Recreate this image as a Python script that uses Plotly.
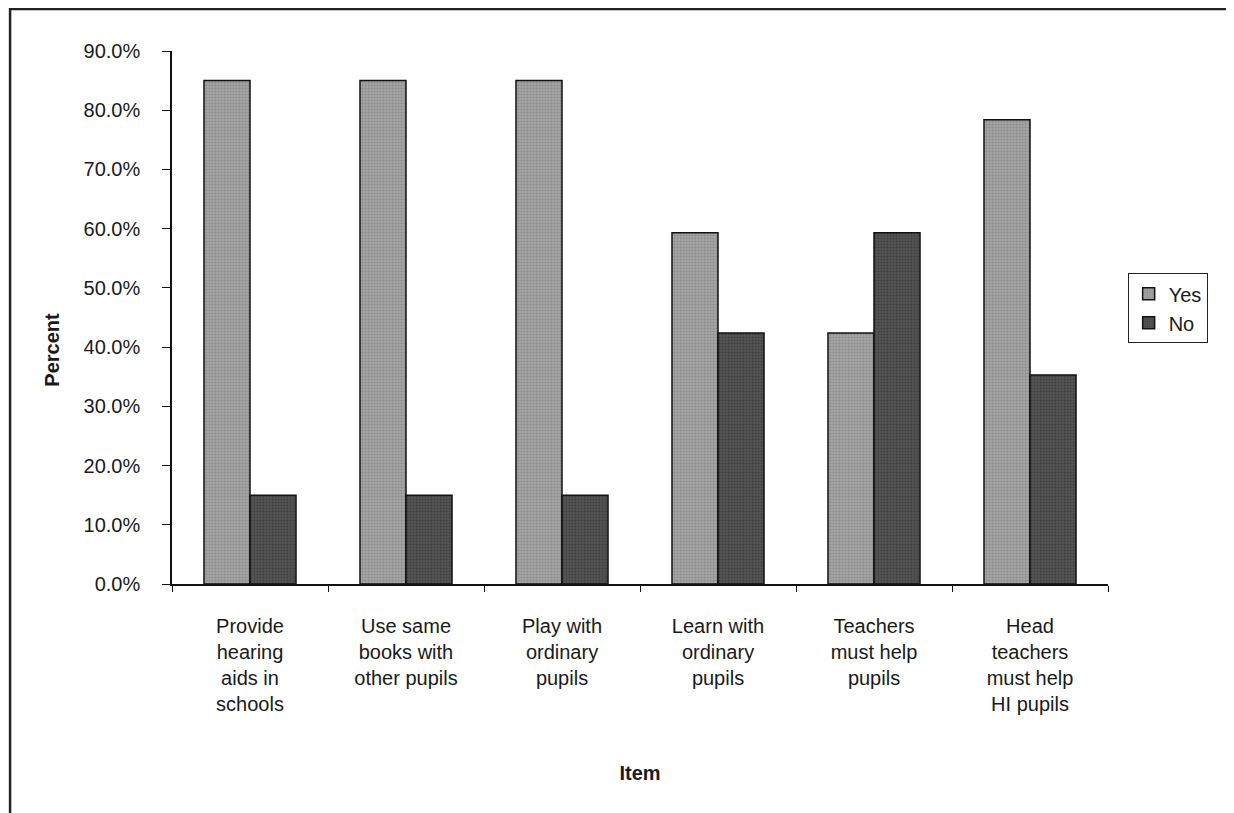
import plotly.graph_objects as go

items = ["Provide<br>hearing<br>aids in<br>schools",
         "Use same<br>books with<br>other pupils",
         "Play with<br>ordinary<br>pupils",
         "Learn with<br>ordinary<br>pupils",
         "Teachers<br>must help<br>pupils",
         "Head<br>teachers<br>must help<br>HI pupils"]
yes_pct = [85.0, 85.0, 85.0, 59.3, 42.4, 78.4]
no_pct = [15.0, 15.0, 15.0, 42.4, 59.3, 35.3]
y_ticks = [0, 10, 20, 30, 40, 50, 60, 70, 80, 90]
y_tick_text = [f"{v:.1f}%" for v in y_ticks]

FONT = "Liberation Sans, Arial, sans-serif"

fig = go.Figure()
fig.add_trace(go.Bar(x=items, y=yes_pct, name="Yes",
    marker=dict(color="#a4a4a4", line=dict(color="#111", width=1.5),
                pattern=dict(shape=".", size=3, solidity=0.35, fgcolor="#6e6e6e", fillmode="overlay"))))
fig.add_trace(go.Bar(x=items, y=no_pct, name="No",
    marker=dict(color="#545454", line=dict(color="#111", width=1.5),
                pattern=dict(shape=".", size=3, solidity=0.35, fgcolor="#2a2a2a", fillmode="overlay"))))

# page body has an 8px margin, so the figure is drawn 8px in from the corner
fig.update_layout(
    width=1226, height=805,
    margin=dict(l=164, r=126, t=43, b=229),
    paper_bgcolor="white", plot_bgcolor="white",
    barmode="group", bargap=0.41, bargroupgap=0,
    font=dict(family=FONT, size=20, color="#1a1a1a"),
    showlegend=True,
    legend=dict(x=1.021, y=0.583, xanchor="left", yanchor="top",
                bordercolor="#222", borderwidth=1, bgcolor="white",
                font=dict(size=20), itemwidth=30, tracegroupgap=4),
)
fig.update_xaxes(showline=True, linecolor="#111", linewidth=1.5,
                 ticks="outside", tickson="boundaries", ticklen=6, tickcolor="#111",
                 ticklabelstandoff=23, showgrid=False, tickangle=0,
                 title=dict(text="<b>Item</b>", font=dict(size=20), standoff=52))
fig.update_yaxes(range=[0, 90], tickvals=y_ticks, ticktext=y_tick_text,
                 showline=True, linecolor="#111", linewidth=1.5,
                 ticks="outside", ticklen=8, tickcolor="#111",
                 ticklabelstandoff=18, showgrid=False, zeroline=False)

# rotated y title sits lower than the plot centre in the original
fig.add_annotation(text="<b>Percent</b>", xref="paper", yref="paper",
                   x=-0.128, y=0.44, xanchor="center", yanchor="middle",
                   textangle=-90, showarrow=False, font=dict(size=20))

# outer frame around the whole chart
fig.add_shape(type="rect", xref="paper", yref="paper",
              x0=-0.173, x1=1.128, y0=-0.45, y1=1.079,
              line=dict(color="#222", width=2.5))

fig.write_html("out.html")
